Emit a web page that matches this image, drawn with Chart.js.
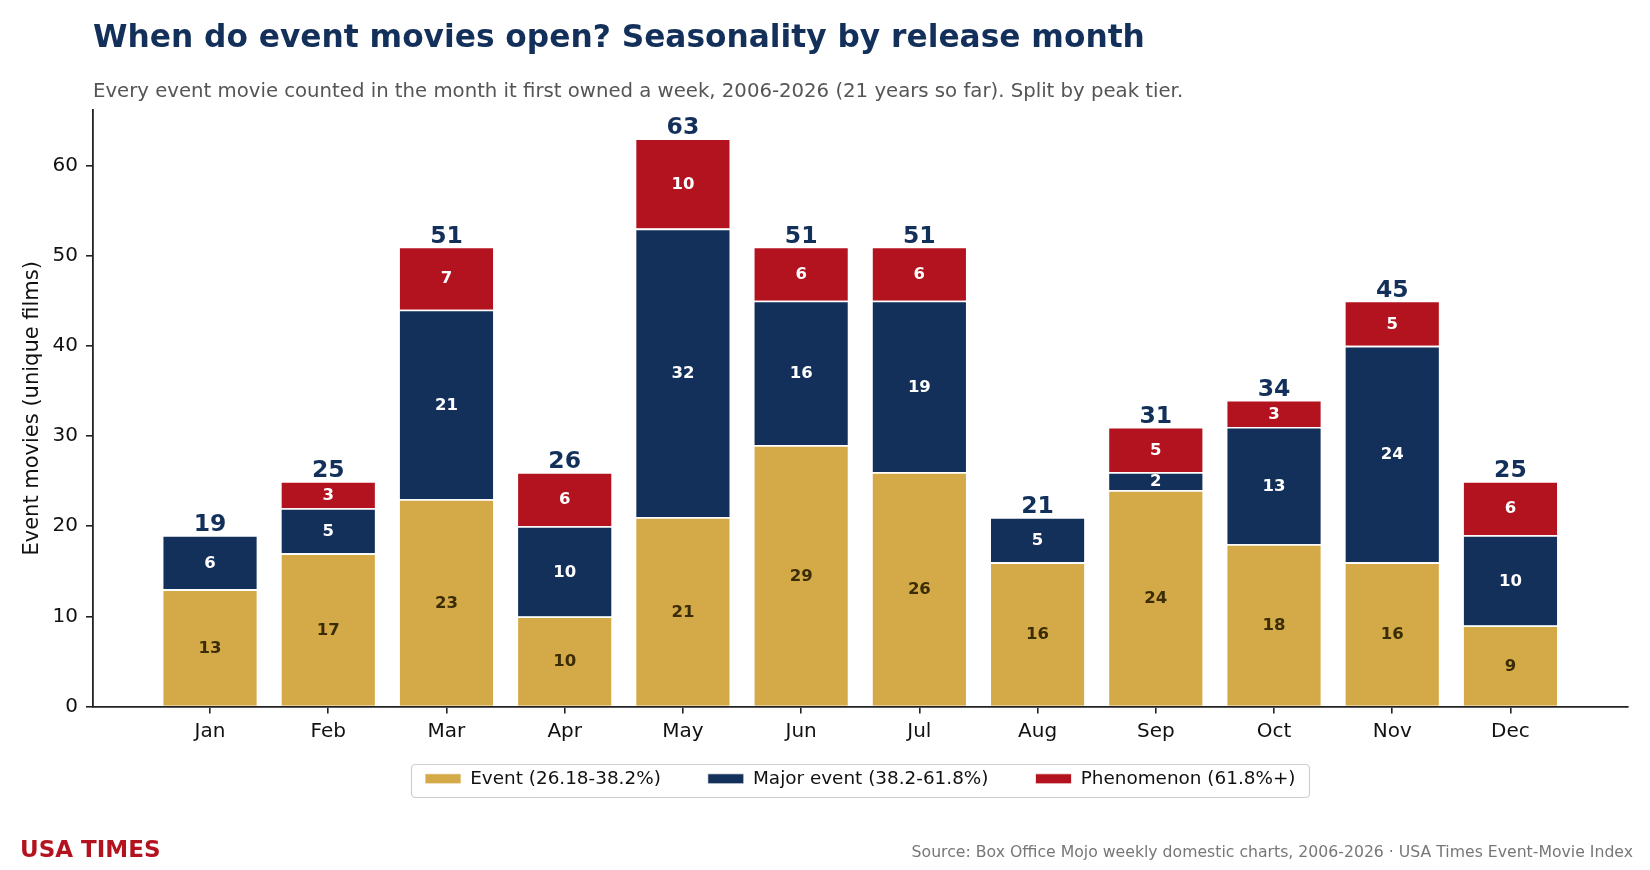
<!DOCTYPE html>
<html>
<head>
<meta charset="utf-8">
<script src="https://cdn.jsdelivr.net/npm/chart.js@4/dist/chart.umd.min.js"></script>
<style>
  html, body { margin: 0; padding: 0; background: #fff; }
  #wrap { width: 1650px; height: 870px; position: relative; }
</style>
</head>
<body>
<div id="wrap"><canvas id="c" width="1650" height="870"></canvas></div>
<script>
const MONTHS = ['Jan','Feb','Mar','Apr','May','Jun','Jul','Aug','Sep','Oct','Nov','Dec'];
const EVENT = [13,17,23,10,21,29,26,16,24,18,16,9];
const MAJOR = [6,5,21,10,32,16,19,5,2,13,24,10];
const PHENOMENON = [0,3,7,6,10,6,6,0,5,3,5,6];
const SERIES_NAMES = ['Event (26.18-38.2%)','Major event (38.2-61.8%)','Phenomenon (61.8%+)'];
const Y_TICKS = [0,10,20,30,40,50,60];

const TITLE = 'When do event movies open? Seasonality by release month';
const SUBTITLE = 'Every event movie counted in the month it first owned a week, 2006-2026 (21 years so far). Split by peak tier.';
const BRAND = 'USA TIMES';
const SOURCE = 'Source: Box Office Mojo weekly domestic charts, 2006-2026 \u00b7 USA Times Event-Movie Index';

const COLORS = ['#D4A947','#13305A','#B3131E'];
const LABEL_COLORS = ['#3A2C05','#FFFFFF','#FFFFFF'];
const FONT = "'DejaVu Sans', sans-serif";

const TOTALS = MONTHS.map((m,i)=>EVENT[i]+MAJOR[i]+PHENOMENON[i]);
const toPts = arr => arr.map((v,i)=>({x:i,y:v}));

const textPlugin = {
  id: 'texts',
  beforeDraw(chart) {
    const ctx = chart.ctx;
    const lg = chart.legend;
    if (lg && lg.legendHitBoxes && lg.legendHitBoxes.length) {
      let x0=Infinity,y0=Infinity,x1=-Infinity,y1=-Infinity;
      lg.legendHitBoxes.forEach(b=>{x0=Math.min(x0,b.left);y0=Math.min(y0,b.top);x1=Math.max(x1,b.left+b.width);y1=Math.max(y1,b.top+b.height);});
      x0-=14; x1+=14; y0-=6; y1+=9;
      ctx.save();
      ctx.strokeStyle = '#CFCFCF';
      ctx.lineWidth = 1.2;
      ctx.beginPath();
      ctx.roundRect(Math.round(x0)+0.5,Math.round(y0)+0.5,Math.round(x1-x0),Math.round(y1-y0),4);
      ctx.stroke();
      ctx.restore();
    }
  },
  afterDraw(chart) {
    const ctx = chart.ctx;
    const ca = chart.chartArea;
    ctx.save();
    ctx.textAlign = 'left';
    ctx.textBaseline = 'alphabetic';
    ctx.fillStyle = '#13305A';
    ctx.font = 'bold 31.25px ' + FONT;
    ctx.fillText(TITLE, ca.left, 46.7);
    ctx.fillStyle = '#555555';
    ctx.font = '19.7px ' + FONT;
    ctx.fillText(SUBTITLE, ca.left, 97.3);
    ctx.fillStyle = '#B3131E';
    ctx.font = 'bold 23px ' + FONT;
    ctx.fillText(BRAND, 20, 856.7);
    ctx.fillStyle = '#777777';
    ctx.font = '15.7px ' + FONT;
    ctx.textAlign = 'right';
    ctx.fillText(SOURCE, 1633, 856.7);
    ctx.restore();
  },
  afterDatasetsDraw(chart) {
    const ctx = chart.ctx;
    ctx.save();
    ctx.textAlign = 'center';
    ctx.textBaseline = 'middle';
    chart.data.datasets.forEach((ds, di) => {
      const meta = chart.getDatasetMeta(di);
      meta.data.forEach((bar, i) => {
        const v = ds.data[i].y;
        if (!v) return;
        ctx.fillStyle = LABEL_COLORS[di];
        ctx.font = 'bold 16.5px ' + FONT;
        ctx.fillText(String(v), bar.x, (bar.y + bar.base) / 2 + 1);
      });
    });
    const ys = chart.scales.y;
    const meta0 = chart.getDatasetMeta(0);
    ctx.textBaseline = 'alphabetic';
    ctx.fillStyle = '#13305A';
    ctx.font = 'bold 23.5px ' + FONT;
    TOTALS.forEach((t, i) => {
      ctx.fillText(String(t), meta0.data[i].x, ys.getPixelForValue(t) - 4);
    });
    ctx.restore();
  }
};

new Chart(document.getElementById('c'), {
  type: 'bar',
  data: {
    datasets: [
      { label: SERIES_NAMES[0], data: toPts(EVENT), backgroundColor: COLORS[0] },
      { label: SERIES_NAMES[1], data: toPts(MAJOR), backgroundColor: COLORS[1] },
      { label: SERIES_NAMES[2], data: toPts(PHENOMENON), backgroundColor: COLORS[2] }
    ]
  },
  options: {
    responsive: false,
    animation: false,
    devicePixelRatio: 1,
    barPercentage: 0.8,
    categoryPercentage: 1,
    datasets: { bar: { borderColor: '#FFFFFF', borderWidth: { top: 1.6, left: 0.7, right: 0.7, bottom: 0 }, borderSkipped: false } },
    layout: { padding: { top: 110, right: 22.5, bottom: 72, left: 0 } },
    plugins: {
      tooltip: { enabled: false },
      title: { display: false },
      legend: {
        position: 'bottom',
        fullSize: false,
        labels: {
          boxWidth: 36, boxHeight: 10, padding: 47,
          color: '#111', font: { family: FONT, size: 18.4 }
        }
      }
    },
    scales: {
      x: {
        type: 'linear', stacked: true, min: -0.99, max: 11.99, offset: false,
        afterBuildTicks(scale) { scale.ticks = MONTHS.map((m,i)=>({value:i})); },
        afterFit(scale) { scale.height = 16; },
        afterUpdate(scale) { scale._computeLabelArea = () => undefined; },
        ticks: { callback: (v) => MONTHS[v], color: '#111', font: { family: FONT, size: 20 }, padding: 6, autoSkip: false, maxRotation: 0 },
        grid: { display: true, offset: false, drawOnChartArea: false, drawTicks: true, tickLength: 7, color: '#222', lineWidth: 1.6 },
        border: { display: true, color: '#222', width: 1.8 }
      },
      y: {
        stacked: true, min: 0, max: 66.15,
        afterBuildTicks(scale) { scale.ticks = Y_TICKS.map(v=>({value:v})); },
        afterFit(scale) { scale.width = 93; },
        ticks: { color: '#111', font: { family: FONT, size: 20 }, padding: 8 },
        grid: { display: true, drawOnChartArea: false, drawTicks: true, tickLength: 7, color: '#222', lineWidth: 1.6 },
        border: { display: true, color: '#222', width: 1.8 },
        title: { display: true, text: 'Event movies (unique films)', color: '#111', font: { family: FONT, size: 21 }, padding: { top: 20, bottom: 0 } }
      }
    }
  },
  plugins: [textPlugin]
});
</script>
</body>
</html>
